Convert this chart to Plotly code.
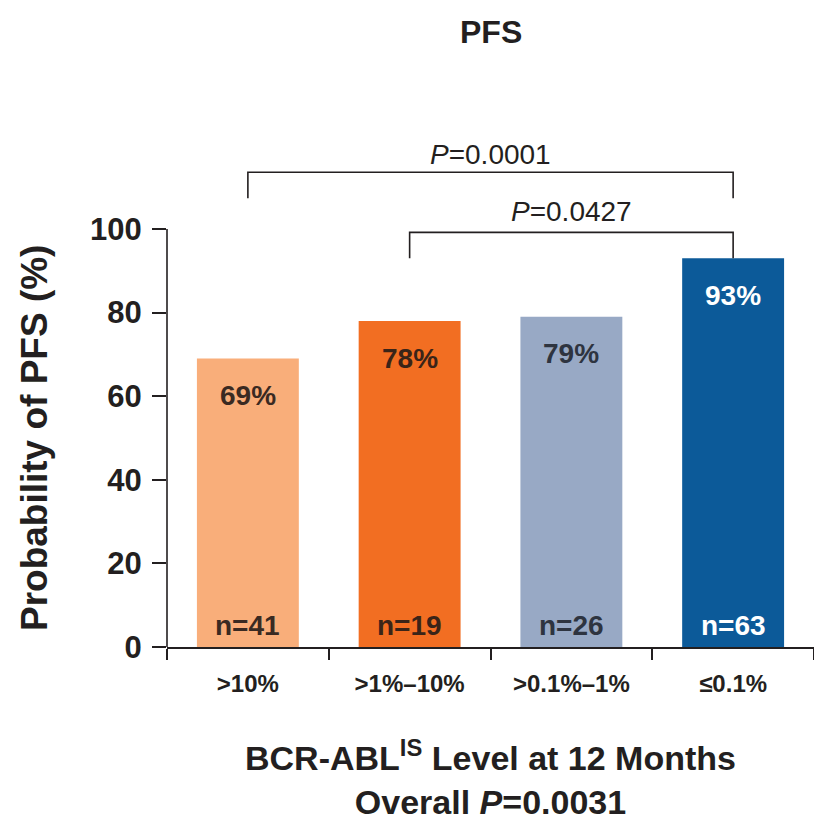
import plotly.graph_objects as go

# Progression-free survival by BCR-ABL(IS) level at 12 months
categories = [">10%", ">1%\u201310%", ">0.1%\u20131%", "\u22640.1%"]
pfs_pct = [69, 78, 79, 93]
n_patients = [41, 19, 26, 63]
bar_colors = ["#F9AE7A", "#F26E22", "#98A9C5", "#0C5A99"]
label_colors = ["#3A2A22", "#3A2418", "#2E3440", "#FFFFFF"]
y_ticks = [0, 20, 40, 60, 80, 100]

# pairwise comparisons: (from category, to category, P value)
comparisons = [(0, 3, "0.0001"), (1, 3, "0.0427")]
overall_p = "0.0031"

FONT = "Liberation Sans, Arial, sans-serif"
INK = "#231F20"
Y_TOP = 123.7

fig = go.Figure()
fig.add_trace(go.Bar(
    x=categories,
    y=pfs_pct,
    marker=dict(color=bar_colors, line=dict(width=0)),
    width=0.63,
    hoverinfo="skip",
))

annotations = []
for i, (cat, v, n) in enumerate(zip(categories, pfs_pct, n_patients)):
    annotations.append(dict(
        x=cat, y=v, xref="x", yref="y", text=f"<b>{v}%</b>",
        showarrow=False, yanchor="middle", yshift=-37,
        font=dict(family=FONT, size=28, color=label_colors[i]),
    ))
    annotations.append(dict(
        x=cat, y=0, xref="x", yref="y", text=f"<b>n={n}</b>",
        showarrow=False, yanchor="middle", yshift=22,
        font=dict(family=FONT, size=28, color=label_colors[i]),
    ))

# significance brackets above the bars
shapes = []
bracket_levels = [(113.6, 107.4, 117.8), (99.2, 93.0, 104.1)]
for (a, b, p), (top, leg, txt) in zip(comparisons, bracket_levels):
    shapes.append(dict(
        type="path", xref="x", yref="y",
        path=f"M {a} {leg} L {a} {top} L {b} {top} L {b} {leg}",
        line=dict(color=INK, width=1.6),
    ))
    annotations.append(dict(
        x=(a + b) / 2, y=txt, xref="x", yref="y",
        text=f"<i>P</i>={p}", showarrow=False, yanchor="middle",
        font=dict(family=FONT, size=28, color=INK),
    ))

# y axis line only spans 0-100
shapes.append(dict(
    type="line", xref="paper", yref="y", x0=0, x1=0, y0=0, y1=100,
    line=dict(color=INK, width=1.6),
))

# chart title
annotations.append(dict(
    x=0.5, y=1.0, xref="paper", yref="paper", yshift=98,
    text="<b>PFS</b>", showarrow=False, yanchor="middle",
    font=dict(family=FONT, size=32, color=INK),
))

# y axis title, centred on the 0-100 scale
annotations.append(dict(
    x=0, y=50, xref="paper", yref="y", xshift=-133,
    text="<b>Probability of PFS (%)</b>", textangle=-90,
    showarrow=False, xanchor="center", yanchor="middle",
    font=dict(family=FONT, size=37, color=INK),
))

# x axis title (two lines)
annotations.append(dict(
    x=0.5, y=0, xref="paper", yref="paper", yshift=-130,
    text=("<b>BCR-ABL<sup>IS</sup> Level at 12 Months</b><br>"
          f"<b>Overall <i>P</i>={overall_p}</b>"),
    showarrow=False, yanchor="middle",
    font=dict(family=FONT, size=34, color=INK),
))

fig.update_layout(
    width=814, height=821,
    margin=dict(l=167, r=0, t=130, b=174),
    paper_bgcolor="white", plot_bgcolor="white",
    showlegend=False,
    annotations=annotations,
    shapes=shapes,
    xaxis=dict(
        type="category", range=[-0.5, 3.5],
        showline=True, linecolor=INK, linewidth=1.6,
        ticks="outside", tickson="boundaries", ticklen=11, tickwidth=1.6,
        tickcolor=INK, showgrid=False, zeroline=False,
        ticklabelstandoff=14,
        tickfont=dict(family=FONT, size=24, color=INK, weight="bold"),
    ),
    yaxis=dict(
        range=[0, Y_TOP], tickvals=y_ticks,
        showline=False, ticks="outside", ticklen=14, tickwidth=1.6,
        tickcolor=INK, showgrid=False, zeroline=False,
        ticklabelstandoff=4,
        tickfont=dict(family=FONT, size=31, color=INK, weight="bold"),
    ),
)

fig.write_html("out.html")
